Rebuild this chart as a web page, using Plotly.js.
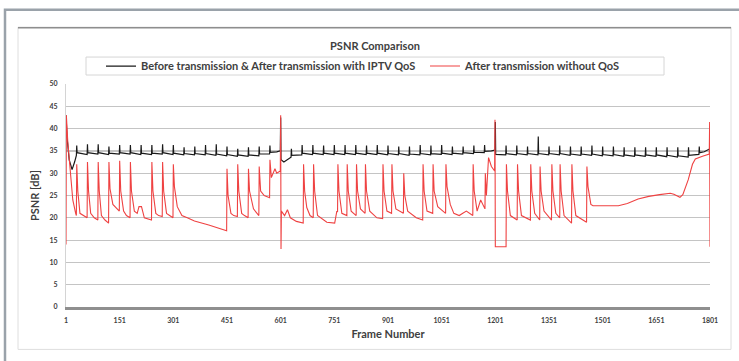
<!DOCTYPE html>
<html><head><meta charset="utf-8">
<script src="https://cdn.plot.ly/plotly-3.0.1.min.js"></script>
<style>html,body{margin:0;padding:0;background:#fff}#chart{width:739px;height:361px}</style>
</head><body><div id="chart"></div>
<script>
// ---- data ----
const chartTitle = 'PSNR Comparison';
const xTitle = 'Frame Number';
const yTitle = 'PSNR [dB]';
const seriesNames = ['Before transmission & After transmission with IPTV QoS', 'After transmission without QoS'];
const xTickFrames = [1,151,301,451,601,751,901,1051,1201,1351,1501,1651,1801];
const yTickValues = [0,5,10,15,20,25,30,35,40,45,50];

// [frame, PSNR dB]
const blackSeries = [
 [1,43],[4,38],[10,33],[18,30.8],[25,32.5],[30,34],[31,36.2],[32,34.6],
 [60,34.2],[61,36.5],[62,34.6],[90,34.3],[91,36.5],[92,34.6],[120,34.2],[121,36],[122,34.5],
 [150,34.3],[151,36.3],[152,34.6],[180,34.3],[181,36.3],[182,34.6],[210,34.2],[211,36.3],[212,34.5],
 [240,34.2],[241,36.3],[242,34.5],[270,34.3],[271,36.5],[272,34.6],[300,34.2],[301,36.3],[302,34.5],
 [330,34.1],[331,35.8],[332,34.4],[360,34.1],[361,36],[362,34.4],[390,34.1],[391,36.3],[392,34.4],
 [420,34],[421,36.5],[422,34.3],[450,33.9],[451,36],[452,34.2],[480,33.8],[481,35.5],[482,34.1],
 [510,33.8],[511,35.8],[512,34.1],[540,33.9],[541,36],[542,34.3],[570,34.3],[571,36.2],[572,34.7],
 [590,34.8],[600,35.0],[601,42.5],[602,33.0],[610,32.5],[625,33.2],
 [630,33.6],[631,35.5],[632,34.0],[660,34.1],[661,36.3],[662,34.5],[690,34.2],[691,36.3],[692,34.5],
 [720,34.2],[721,36.2],[722,34.5],[750,34.2],[751,36.3],[752,34.5],[780,34.2],[781,36.3],[782,34.5],
 [810,34.2],[811,36.3],[812,34.5],[840,34.2],[841,36.2],[842,34.5],[870,34.2],[871,36.3],[872,34.5],
 [900,34.1],[901,36.2],[902,34.4],[930,34.1],[931,36.0],[932,34.4],[960,34.0],[961,36.0],[962,34.3],
 [990,34.1],[991,36.3],[992,34.4],[1020,34.1],[1021,36.2],[1022,34.4],[1050,34.2],[1051,36.3],[1052,34.5],
 [1080,34.2],[1081,36.0],[1082,34.5],[1110,34.3],[1111,36.0],[1112,34.6],[1140,34.4],[1141,36.2],[1142,34.7],
 [1170,34.6],[1171,36.3],[1172,34.9],[1190,35.0],[1200,35.2],[1201,41.5],[1202,34.2],
 [1230,34.1],[1231,36.2],[1232,34.4],[1260,34.1],[1261,36.2],[1262,34.4],[1290,34.1],[1291,36.0],[1292,34.4],
 [1320,34.1],[1321,38.2],[1322,34.4],[1350,34.1],[1351,36.0],[1352,34.4],[1380,34.1],[1381,36.2],[1382,34.4],
 [1410,34.0],[1411,36.0],[1412,34.3],[1440,34.0],[1441,36.0],[1442,34.3],[1470,34.0],[1471,36.2],[1472,34.3],
 [1500,33.9],[1501,36.0],[1502,34.2],[1530,33.9],[1531,36.0],[1532,34.2],[1560,33.8],[1561,35.8],[1562,34.1],
 [1590,33.8],[1591,35.8],[1592,34.1],[1620,33.8],[1621,35.8],[1622,34.1],[1650,33.8],[1651,35.8],[1652,34.1],
 [1680,33.7],[1681,35.8],[1682,34.0],[1710,33.6],[1711,35.8],[1712,33.9],[1740,33.6],[1741,35.8],[1742,34.0],
 [1770,34.2],[1771,36.0],[1772,34.6],[1785,34.8],[1801,35.5]
];

const redSeries = [
 [1,14],[2,43],[6,37],[12,31.5],[20,24],[28,21],[30,20.5],
 [31,32],[34,26],[40,21],[50,20.5],[60,20],
 [61,32.5],[64,26],[70,21],[80,20],[90,19.5],
 [91,32.5],[94,26],[100,20.5],[110,19.5],[120,18.8],
 [121,32.5],[124,26.5],[132,23],[150,21.5],
 [151,32.8],[154,26],[162,21.5],[170,20.5],[180,20],
 [181,32.5],[184,26],[192,21.5],[200,21],[205,22.5],[212,22.5],[220,20],[240,19.5],
 [241,32.5],[244,26],[252,21],[260,20.5],[270,20.3],
 [271,32.5],[274,26],[282,21],[290,20.5],[300,20],
 [301,32],[304,27],[312,22.5],[325,20.5],[340,20],[360,19.3],[400,18.4],[450,17.1],
 [451,31],[454,25],[462,21],[470,20.5],[480,20.3],
 [481,32],[484,26],[492,21],[500,20.5],[510,20],
 [511,31],[514,26],[525,22],[540,20.5],
 [541,31.5],[545,26],[555,25],[570,24.5],
 [571,33],[575,29],[585,31],[590,30],[600,30.5],
 [601,43],[602,13],
 [603,21.5],[612,20.5],[620,21.8],[628,20],[645,19.2],[664,18.8],
 [665,32],[668,26],[674,22.3],[683,20.5],[692,20],
 [693,32],[696,26],[704,20.5],[730,19],[752,18.8],[758,21.5],[760,21.3],
 [761,32],[764,26],[772,21],[786,20.5],
 [787,32],[790,26],[798,21.5],[812,20.5],
 [813,32],[816,26],[824,22],[837,21],
 [838,32],[841,26],[850,21.5],[870,20],[886,19.8],
 [887,32],[890,26],[898,21.5],[911,21],
 [912,32],[915,26],[923,22],[944,21],
 [945,30],[948,25],[956,21.5],[980,20],[998,19.5],
 [999,32],[1002,26],[1010,21.5],[1026,21],
 [1027,32],[1030,26],[1040,22.5],[1062,21],
 [1063,32],[1066,27],[1075,23],[1085,21],[1100,20.5],[1110,21],[1120,21.5],[1138,20.5],
 [1139,32],[1142,26],[1150,21.5],[1160,24],[1172,22],
 [1173,30],[1176,25],[1182,33.5],[1190,31.5],[1199,30.5],
 [1200,42],[1201,13.5],[1231,13.5],
 [1232,32],[1235,26],[1243,20.5],[1262,19.5],
 [1263,32],[1266,26],[1274,20.5],[1299,19.5],
 [1300,32],[1303,26],[1311,21],[1325,19.5],
 [1326,31.5],[1329,26],[1337,21.5],[1358,19.5],
 [1359,32],[1362,26],[1370,21],[1381,20],
 [1382,32],[1385,26],[1393,20.5],[1414,18.8],
 [1415,32],[1418,26],[1426,20.5],[1456,19],
 [1457,31.5],[1460,27],[1468,23],[1474,22.7],
 [1545,22.7],[1570,23.2],[1600,24.2],[1630,24.8],[1660,25.2],[1690,25.5],[1700,25.3],
 [1717,24.6],[1725,25.2],[1740,28.5],[1752,32],[1760,33.2],[1780,33.8],[1799,34.3],
 [1800,41.5],[1801,13.5]
];

// ---- layout helpers (pixel positions of the reference frame) ----
const W = 739, H = 361;
const L = 66, R = 710, T = 84, B = 307.5;
const px = v => (v - L) / (R - L);
const py = v => (B - v) / (B - T);

const FONT = 'Lato, "Open Sans", "DejaVu Sans", sans-serif';
const TXT = '#404040';

const traces = [
  {
    type: 'scatter', mode: 'lines', name: seriesNames[0],
    x: blackSeries.map(p => p[0]), y: blackSeries.map(p => p[1]),
    line: {color: '#1a1a1a', width: 1.2}, legend: 'legend'
  },
  {
    type: 'scatter', mode: 'lines', name: seriesNames[1],
    x: redSeries.map(p => p[0]), y: redSeries.map(p => p[1]),
    line: {color: '#ef4242', width: 1.1}, legend: 'legend2'
  }
];

const legendCommon = {
  orientation: 'h', yanchor: 'middle', xanchor: 'left',
  bgcolor: 'rgba(0,0,0,0)', borderwidth: 0,
  font: {family: FONT, size: 11, color: TXT, weight: 'bold'}
};

const layout = {
  width: W, height: H,
  paper_bgcolor: '#ffffff', plot_bgcolor: '#ffffff',
  margin: {l: L, r: W - R, t: T, b: H - B, pad: 0},
  title: {
    text: chartTitle, xref: 'container', yref: 'container',
    x: 375 / W, xanchor: 'center', y: 1 - 46 / H, yanchor: 'middle',
    font: {family: FONT, size: 11, color: TXT, weight: 'bold'}
  },
  showlegend: true,
  legend: Object.assign({x: px(101), y: py(66)}, legendCommon),
  legend2: Object.assign({x: px(425), y: py(66)}, legendCommon),
  xaxis: {
    range: [1, 1801], tickmode: 'array', tickvals: xTickFrames,
    ticktext: xTickFrames.map(String),
    showgrid: false, zeroline: false,
    showline: true, linecolor: '#8f8f8f', linewidth: 2.5,
    ticks: '', ticklabelstandoff: 5,
    tickfont: {family: FONT, size: 7, color: TXT, weight: 'bold'},
    title: {text: xTitle, standoff: 8, font: {family: FONT, size: 11, color: TXT, weight: 'bold'}}
  },
  yaxis: {
    range: [0, 50], tickmode: 'array', tickvals: yTickValues,
    showgrid: true, gridcolor: '#c4c4c4', gridwidth: 1.2,
    zeroline: false, showline: true, linecolor: '#d4d4d4', linewidth: 1,
    ticks: '', ticklabelstandoff: 6,
    tickfont: {family: FONT, size: 7, color: TXT, weight: 'bold'},
    title: {text: yTitle, standoff: 7, font: {family: FONT, size: 11, color: TXT, weight: 'bold'}}
  },
  shapes: [
    {type: 'rect', xref: 'paper', yref: 'paper', x0: px(5), x1: px(760), y0: py(380), y1: py(9.5),
     line: {color: '#9aa2aa', width: 2.5}, fillcolor: 'rgba(0,0,0,0)', layer: 'below'},
    {type: 'rect', xref: 'paper', yref: 'paper', x0: px(18), x1: px(731), y0: py(350), y1: py(27),
     line: {color: '#dedede', width: 1}, fillcolor: 'rgba(0,0,0,0)', layer: 'below'},
    {type: 'line', xref: 'paper', yref: 'paper', x0: px(18), x1: px(731), y0: py(27.5), y1: py(27.5),
     line: {color: '#8e8e8e', width: 1.5}, layer: 'below'},
    {type: 'rect', xref: 'paper', yref: 'paper', x0: px(86), x1: px(664), y0: py(75), y1: py(57),
     line: {color: '#d6d6d6', width: 1}, fillcolor: '#ffffff', layer: 'below'}
  ]
};

Plotly.newPlot('chart', traces, layout, {displayModeBar: false, staticPlot: true});
</script>
</body></html>
